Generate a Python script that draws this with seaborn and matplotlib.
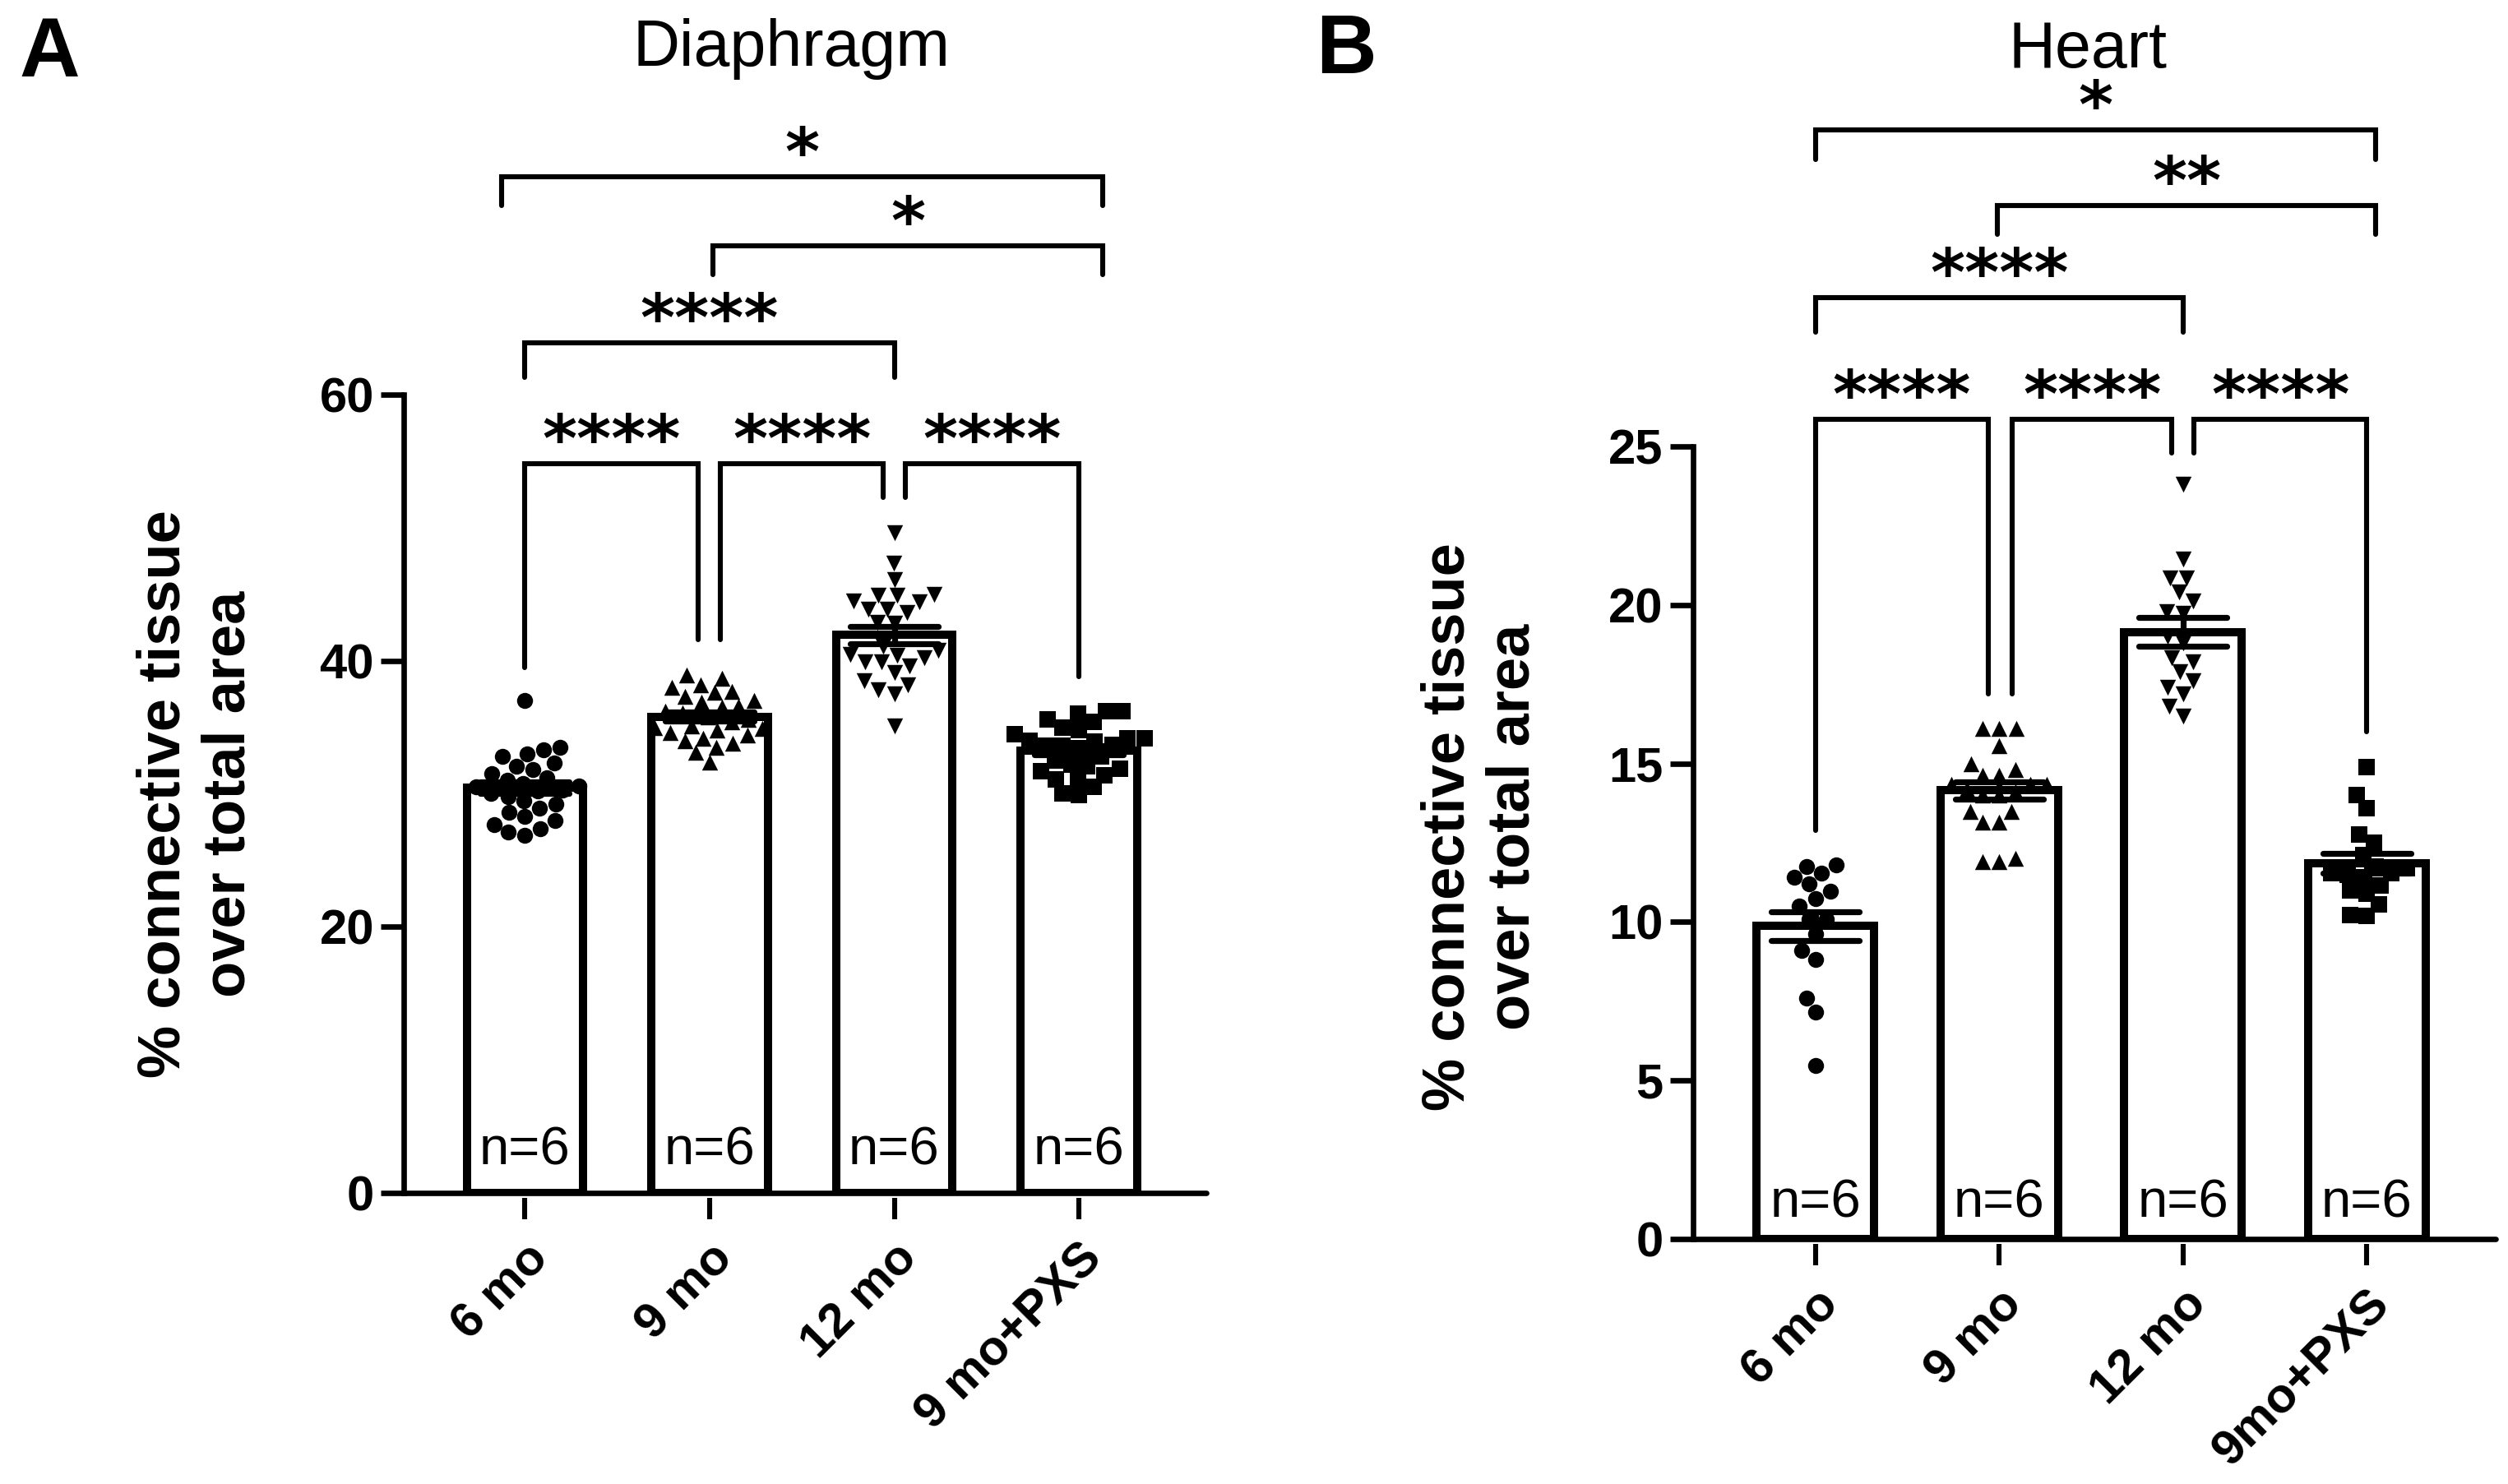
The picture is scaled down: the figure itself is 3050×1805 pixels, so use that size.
import numpy as np
import pandas as pd
import seaborn as sns
import matplotlib.pyplot as plt

# Grupos e marcadores
grupos_dia = ['6 mo', '9 mo', '12 mo', '9 mo+PXS']
grupos_heart = ['6 mo', '9 mo', '12 mo', '9mo+PXS']
marcadores = ['o', '^', 'v', 's']

# Diaphragm: % connective tissue over total area
dia_6mo = [37.0, 33.5, 33.3, 33.0, 32.8, 32.3, 32.1, 31.8, 31.5, 31.2, 31.0, 30.8, 30.6, 30.5,
           30.3, 30.2, 30.0, 29.8, 29.5, 29.2, 28.9, 28.6, 28.3, 28.0, 27.7, 27.4, 27.1, 26.9]
dia_9mo = [38.9, 38.7, 38.0, 37.6, 38.2, 37.0, 37.7, 36.6, 37.3, 36.2, 36.9, 35.8, 36.5, 35.4,
           36.1, 35.1, 35.6, 34.9, 35.0, 34.8, 34.6, 34.4, 34.2, 34.0, 33.8, 33.5, 33.1, 32.4]
dia_12mo = [49.6, 47.3, 46.1, 44.9, 45.0, 44.5, 44.9, 43.9, 44.4, 43.9, 43.6, 42.8, 42.9, 41.1,
            40.8, 40.4, 39.9, 39.9, 40.5, 39.6, 39.1, 38.5, 38.2, 37.8, 37.5, 35.1, 40.2]
dia_pxs = [36.0, 36.2, 36.2, 35.6, 35.4, 35.0, 34.2, 33.7, 33.6, 32.8, 33.4, 33.6, 32.2, 32.1,
           31.9, 31.7, 31.4, 31.1, 30.5, 30.0, 29.9, 32.5, 34.2, 31.1, 34.8, 34.5, 33.9, 34.0]

# Heart
heart_6mo = [11.55, 11.42, 11.76, 11.8, 10.96, 10.73, 11.2, 10.5, 10.1, 10.1, 9.63, 9.1,
             8.83, 7.6, 7.17, 5.47]
heart_9mo = [16.1, 16.1, 16.1, 15.55, 15.0, 14.64, 14.64, 14.8, 14.35, 14.35, 14.1, 14.0,
             14.0, 14.2, 14.35, 13.5, 13.5, 13.15, 13.15, 11.9, 12.0, 11.9]
heart_12mo = [23.8, 21.45, 20.85, 20.85, 20.4, 20.13, 19.8, 19.73, 19.0, 18.8, 18.34, 18.2,
              17.9, 17.6, 17.2, 17.4, 16.8, 16.5]
heart_pxs = [14.9, 14.0, 13.6, 12.75, 12.5, 12.1, 11.4, 11.75, 11.55, 11.55, 11.5, 10.9,
             11.15, 11.0, 10.56, 10.2, 10.23, 11.7]

# Comparações: (texto, x1, x2, linha, fim esquerda, fim direita)
comp_dia = [('*', -0.125, 3.13, 76.4, 74.2, 74.2),
            ('*', 1.02, 3.13, 71.2, 69.0, 69.0),
            ('****', 0.0, 2.0, 63.9, 61.3, 61.3),
            ('****', 0.0, 0.94, 54.8, 39.5, 41.6),
            ('****', 1.06, 1.94, 54.8, 41.6, 52.3),
            ('****', 2.06, 3.0, 54.8, 52.3, 38.8)]
comp_heart = [('*', 0.0, 3.05, 35.0, 34.06, 34.06),
              ('**', 0.99, 3.05, 32.6, 31.7, 31.7),
              ('****', 0.0, 2.0, 29.7, 28.6, 28.6),
              ('****', 0.0, 0.94, 25.86, 12.9, 17.2),
              ('****', 1.07, 1.94, 25.86, 17.2, 24.8),
              ('****', 2.06, 3.0, 25.86, 24.8, 16.0)]


def monta_df(grupos, series):
    return pd.DataFrame({'grupo': np.repeat(grupos, [len(s) for s in series]),
                         'valor': np.concatenate(series)})


sns.set_style('ticks')
plt.rcParams['font.family'] = ['Liberation Sans', 'DejaVu Sans']
plt.rcParams['text.color'] = 'black'
plt.rcParams['xtick.color'] = 'black'
plt.rcParams['ytick.color'] = 'black'
plt.rcParams['axes.edgecolor'] = 'black'

fig = plt.figure(figsize=(15.25, 9.025), dpi=200)
ax_a = fig.add_axes([0.161, 0.1961, 0.320, 0.538])
ax_b = fig.add_axes([0.675, 0.1651, 0.320, 0.534])

paineis = [
    (ax_a, monta_df(grupos_dia, [dia_6mo, dia_9mo, dia_12mo, dia_pxs]), grupos_dia,
     comp_dia, (-0.656, 3.69), 60, [0, 20, 40, 60], 0.036, 0.63),
    (ax_b, monta_df(grupos_heart, [heart_6mo, heart_9mo, heart_12mo, heart_pxs]), grupos_heart,
     comp_heart, (-0.667, 3.70), 25, [0, 5, 10, 15, 20, 25], 0.027, 0.64),
]

for ax, df, grupos, comps, xlim, ymax, yticks, ny, larg in paineis:
    sns.barplot(data=df, x='grupo', y='valor', order=grupos, errorbar='se', capsize=0.48,
                width=larg, color='white', edgecolor='black', linewidth=3.6,
                err_kws={'color': 'black', 'linewidth': 2.6}, ax=ax)
    for g, m in zip(grupos, marcadores):
        sns.swarmplot(data=df[df['grupo'] == g], x='grupo', y='valor', order=grupos,
                      marker=m, color='black', size=7, ax=ax)

    ax.set_xlim(*xlim)
    ax.set_ylim(0, ymax)
    ax.set_xlabel('')
    ax.set_ylabel('')

    sns.despine(ax=ax)
    ax.spines['left'].set_linewidth(2.4)
    ax.spines['bottom'].set_position(('outward', 2))
    ax.spines['bottom'].set_visible(False)
    ax.axhline(0, color='black', linewidth=2.4, zorder=6, clip_on=False)
    ax.tick_params(axis='x', length=9.5, width=2.2, pad=7, color='black')
    ax.tick_params(axis='y', length=10, width=2.4, pad=3, color='black')
    ax.patch.set_alpha(0)

    # rótulos dos eixos (depois do tick_params)
    ax.set_yticks(yticks)
    ax.set_yticklabels([str(t) for t in yticks], fontsize=21.5, fontweight='bold')
    ax.set_xticks(range(4))
    ax.set_xticklabels(grupos, rotation=45, ha='right', rotation_mode='anchor',
                       fontsize=21.5, fontweight='bold')

    # n=6 dentro das barras
    for i in range(4):
        ax.text(i, ny, 'n=6', transform=ax.get_xaxis_transform(), ha='center',
                va='baseline', fontsize=23.5)

    # colchetes de significância
    for txt, x1, x2, yl, y1, y2 in comps:
        ax.plot([x1, x1, x2, x2], [y1, yl, yl, y2], color='black', linewidth=2.2,
                clip_on=False, solid_joinstyle='miter')
        ax.annotate(txt, xy=((x1 + x2) / 2, yl), xytext=(0, 1), textcoords='offset points',
                    ha='center', va='baseline', fontsize=29, fontweight='bold',
                    family='DejaVu Sans', annotation_clip=False)

# eixos y e títulos
ax_a.text(-0.258, 0.5, '% connective tissue\nover total area', transform=ax_a.transAxes,
          rotation=90, ha='center', va='center', fontsize=26, fontweight='bold',
          linespacing=1.2)
ax_b.text(-0.264, 0.52, '% connective tissue\nover total area', transform=ax_b.transAxes,
          rotation=90, ha='center', va='center', fontsize=26, fontweight='bold',
          linespacing=1.2)

fig.text(962 / 3050, 1 - 80 / 1805, 'Diaphragm', ha='center', va='baseline', fontsize=28.4)
fig.text(2539 / 3050, 1 - 82 / 1805, 'Heart', ha='center', va='baseline', fontsize=28.4)
fig.text(23 / 3050, 1 - 93 / 1805, 'A', ha='left', va='baseline', fontsize=36.7,
         fontweight='bold')
fig.text(1600 / 3050, 1 - 89 / 1805, 'B', ha='left', va='baseline', fontsize=36.7,
         fontweight='bold')

fig.savefig('out.png', dpi=200, facecolor='white')
